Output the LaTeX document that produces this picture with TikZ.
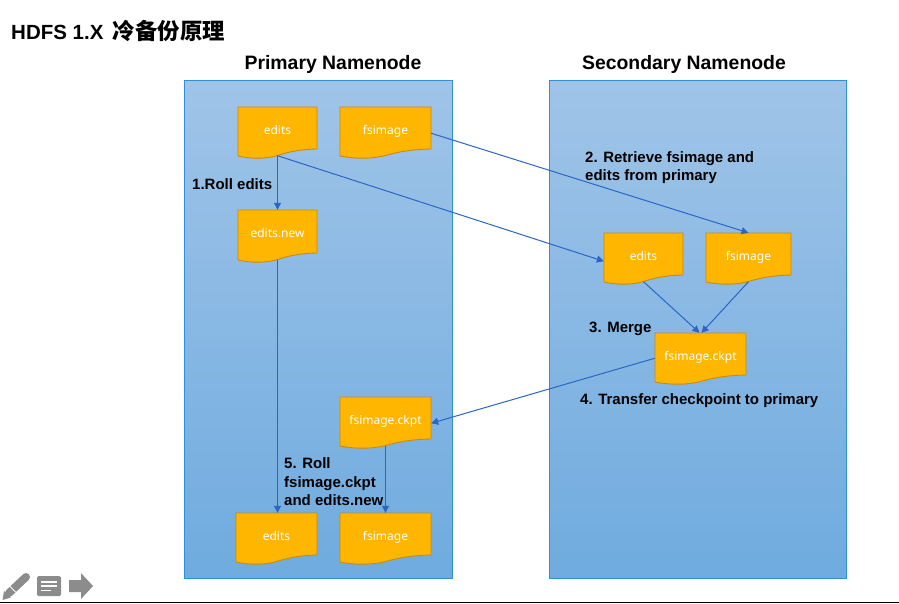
\documentclass[tikz,border=0pt]{standalone}
\usepackage{fontspec}
\setmainfont{Noto Sans}
\newfontfamily\cjkfont{Noto Sans CJK SC}
\newfontfamily\boldsans{Liberation Sans}
\usetikzlibrary{arrows.meta}
\definecolor{paneltop}{HTML}{A0C4E8}
\definecolor{panelbot}{HTML}{6FABDF}
\definecolor{panelline}{HTML}{2E8FDC}
\definecolor{docfill}{HTML}{FFB600}
\definecolor{docline}{HTML}{C98A10}
\definecolor{link}{HTML}{2A66C4}
\definecolor{icon}{HTML}{8C8C8C}
\tikzset{
  x=1pt,y=-1pt,
  panelbox/.style={draw=panelline,line width=.9pt,top color=paneltop,bottom color=panelbot,inner sep=0pt},
  docshape/.style={fill=docfill,draw=docline,line width=.9pt},
  doclabel/.style={inner sep=0pt,text=white,font=\fontsize{12}{14}\selectfont},
  flow/.style={draw=link,line width=1pt,-{Triangle[length=7pt,width=7pt]}},
  steplabel/.style={inner sep=0pt,anchor=west,align=left,text=black,font=\boldsans\bfseries\fontsize{15}{18.6}\selectfont},
  paneltitle/.style={inner sep=0pt,text=black,font=\boldsans\bfseries\fontsize{19.4}{20}\selectfont},
}
% name, x1, y1, x2, y2 (bottom of the right edge), text
\newcommand{\docnode}[6]{%
  \pgfmathsetmacro{\dW}{#4-#2}%
  \pgfmathsetmacro{\dH}{#5+6.5-#3}%
  \pgfmathsetmacro{\xa}{#2+.75*\dW}\pgfmathsetmacro{\xb}{#2+.62*\dW}%
  \pgfmathsetmacro{\xc}{#2+.5*\dW}\pgfmathsetmacro{\xd}{#2+.36*\dW}%
  \pgfmathsetmacro{\xe}{#2+.16*\dW}%
  \pgfmathsetmacro{\ya}{#5+.5}\pgfmathsetmacro{\yb}{#5+3.5}%
  \pgfmathsetmacro{\yc}{#5+6.5}\pgfmathsetmacro{\yd}{#5+10}\pgfmathsetmacro{\ye}{#5+7}%
  \pgfmathsetmacro{\ym}{(#3+#5+6.5)/2}%
  \path[docshape] (#2,#3) -- (#4,#3) -- (#4,#5)
    .. controls (\xa,\ya) and (\xb,\yb) .. (\xc,\yc)
    .. controls (\xd,\yd) and (\xe,\yd) .. (#2,\ye) -- cycle;
  \node[doclabel,minimum width=\dW pt,minimum height=\dH pt,text depth=3pt,text height=9pt] (#1) at (\xc,\ym) {#6};
}
\begin{document}
\begin{tikzpicture}
\useasboundingbox (0,0) rectangle (899,603);
\fill[white] (0,0) rectangle (899,603);
\node[inner sep=0pt,anchor=west,font=\boldsans\bfseries\fontsize{20.5}{24}\selectfont] (title) at (11,31) {HDFS 1.X\hspace{9.5pt}{\cjkfont\fontsize{22.4}{24}\selectfont 冷备份原理}};
\node[panelbox,minimum width=268pt,minimum height=498pt] (primary) at (318,329) {};
\node[panelbox,minimum width=297pt,minimum height=498pt] (secondary) at (697.5,329) {};
\node[paneltitle] (ptitle) at (333,64.5) {Primary Namenode};
\node[paneltitle] (stitle) at (684,64.5) {Secondary Namenode};

\docnode{edits}{238}{107}{317}{149}{edits}
\docnode{fsimage}{340}{107}{431}{149}{fsimage}
\docnode{editsnew}{238}{210}{317}{253}{edits.new}
\docnode{sedits}{604}{233}{683}{275}{edits}
\docnode{sfsimage}{706}{233}{791}{275}{fsimage}
\docnode{sckpt}{655}{333}{746}{375}{fsimage.ckpt}
\docnode{pckpt}{340}{397}{431}{439}{fsimage.ckpt}
\docnode{bedits}{236}{513}{317}{555}{edits}
\docnode{bfsimage}{340}{513}{431}{555}{fsimage}

\draw[flow] (edits.south) -- (editsnew.north);
\draw[flow] (edits.south) -- ([yshift=-4pt]sedits.west);
\draw[flow] ([yshift=-2pt]fsimage.east) -- (sfsimage.north);
\draw[flow] (sedits.south) -- ([xshift=-1pt]sckpt.north);
\draw[flow] (sfsimage.south) -- ([xshift=1pt]sckpt.north);
\draw[flow] ([yshift=-1pt]sckpt.west) -- ([yshift=-2pt]pckpt.east);
\draw[flow] (pckpt.south) -- (bfsimage.north);
\draw[flow] (editsnew.south) -- (editsnew.south |- bedits.north);

\node[steplabel] (l1) at (192,184) {1.Roll edits};
\node[steplabel,anchor=north west] (l2) at (585,151) {2. Retrieve fsimage and\\edits from primary};
\node[steplabel] (l3) at (589,328.5) {3. Merge};
\node[steplabel] (l4) at (580,400.5) {4. Transfer checkpoint to primary};
\node[steplabel,anchor=north west] (l5) at (284,457.5) {5. Roll\\fsimage.ckpt\\and edits.new};

% toolbar icons
\draw[icon,line width=8pt,line cap=round] (9,593) -- (26,577);
\fill[icon] (2.5,600) -- (4,591) -- (11,597.5) -- cycle;
\draw[white,line width=.8pt] (9.5,586) -- (15.5,592);
\fill[icon,rounded corners=1.5pt] (37,576) rectangle (61,596);
\draw[white,line width=1.3pt] (41,582) -- (57,582) (41,586) -- (57,586) (41,590.5) -- (51,590.5);
\fill[icon] (69,580) -- (81,580) -- (81,573) -- (93,586) -- (81,599) -- (81,592) -- (69,592) -- cycle;
\fill[black] (0,601.5) rectangle (899,603);
\end{tikzpicture}
\end{document}
